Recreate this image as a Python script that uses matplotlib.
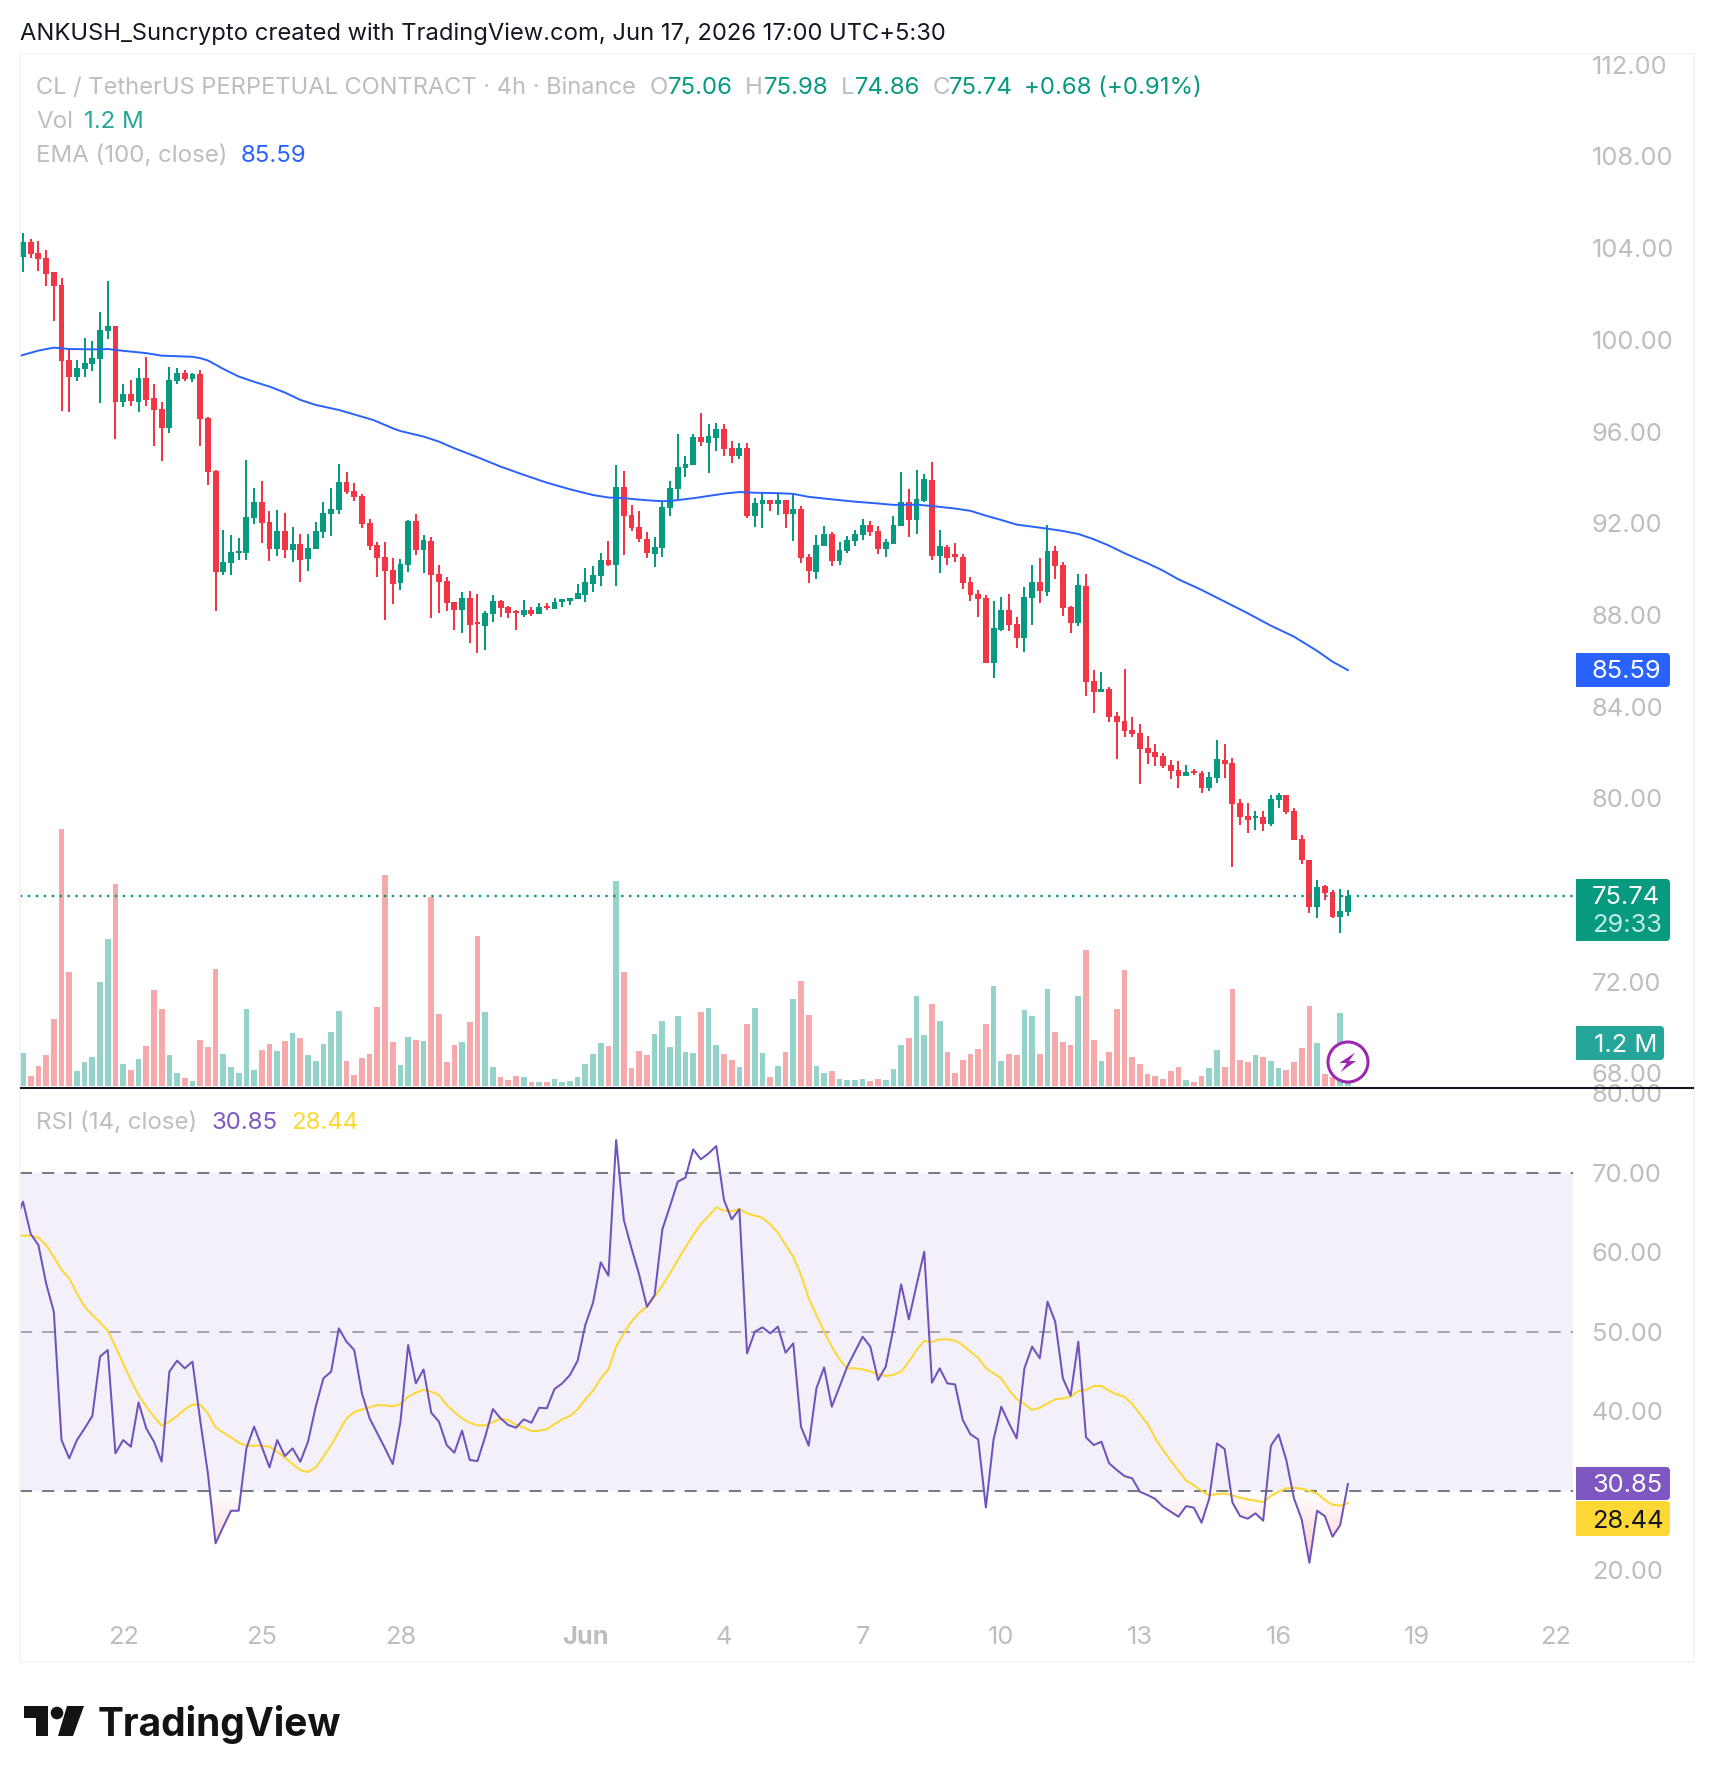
import numpy as np
import matplotlib
matplotlib.use("Agg")
import matplotlib.pyplot as plt
from matplotlib.patches import Circle, FancyBboxPatch, Polygon, Rectangle
from matplotlib.path import Path

plt.rcParams["font.family"] = ["Inter", "DejaVu Sans"]

W, H = 1714, 1782

GREEN = "#089981"
RED = "#F23645"
GREY = "#BDBDC2"
AXIS_SIZE = 18.3
LEGEND_SIZE = 17.3

# 4h candles, oldest first
opens = [
    103.63, 104.27, 103.79, 103.58, 102.94, 102.40, 99.13, 98.38, 98.73, 98.95,
    99.17, 100.39, 100.61, 97.29, 97.64, 97.29, 98.34, 97.47, 96.99, 96.16,
    98.21, 98.56, 98.30, 98.52, 96.59, 94.28, 89.88, 90.27, 90.71, 90.71,
    92.23, 92.93, 92.06, 90.88, 91.66, 90.84, 91.10, 90.44, 90.88, 91.62,
    92.41, 92.58, 93.80, 93.41, 93.19, 92.01, 91.05, 90.53, 89.96, 89.39,
    90.18, 92.10, 90.83, 91.23, 89.79, 89.48, 88.56, 88.21, 88.74, 87.69,
    87.52, 88.04, 88.61, 88.35, 88.17, 87.99, 88.21, 88.04, 88.39, 88.26,
    88.56, 88.61, 88.70, 88.87, 89.35, 89.70, 90.40, 90.18, 93.58, 92.36,
    91.84, 91.31, 90.66, 90.92, 92.67, 93.50, 94.41, 94.54, 95.76, 95.50,
    95.72, 96.11, 95.28, 94.93, 95.28, 92.32, 92.84, 93.02, 92.84, 93.02,
    92.40, 92.62, 90.53, 89.87, 91.01, 91.53, 90.35, 90.79, 91.23, 91.49,
    91.93, 91.66, 90.88, 91.10, 91.88, 92.93, 92.14, 92.97, 93.89, 90.57,
    90.96, 90.64, 90.53, 89.44, 88.91, 88.74, 85.90, 87.34, 88.22, 87.60,
    86.99, 88.74, 89.44, 89.00, 90.79, 90.18, 88.35, 87.65, 89.26, 85.12,
    84.64, 84.77, 83.59, 83.37, 82.98, 82.85, 82.20, 82.02, 81.85, 81.45,
    81.24, 80.97, 81.19, 81.10, 80.45, 80.89, 81.67, 81.54, 79.80, 79.23,
    79.14, 79.19, 78.88, 79.93, 80.14, 79.45, 78.22, 77.31, 75.26, 76.17,
    75.91, 74.82, 75.06,
]
highs = [
    104.68, 104.40, 104.32, 103.92, 102.97, 102.70, 99.56, 99.13, 100.09, 99.95,
    101.22, 102.57, 100.61, 98.08, 98.25, 98.78, 99.26, 98.08, 97.29, 98.82,
    98.78, 98.69, 98.56, 98.69, 96.64, 94.33, 91.71, 91.49, 91.36, 94.76,
    93.54, 93.85, 92.54, 92.58, 92.45, 91.84, 91.53, 91.53, 92.06, 92.93,
    93.54, 94.59, 94.24, 93.76, 93.28, 92.19, 91.18, 91.18, 90.48, 90.44,
    92.14, 92.40, 91.49, 91.40, 90.18, 89.65, 88.56, 89.00, 89.04, 88.91,
    88.17, 88.87, 88.65, 88.39, 88.21, 88.65, 88.35, 88.52, 88.52, 88.74,
    88.70, 88.74, 89.35, 90.05, 90.13, 90.70, 91.23, 94.54, 94.28, 92.80,
    92.53, 91.62, 91.40, 92.93, 93.84, 95.89, 94.93, 95.89, 96.81, 96.33,
    96.37, 96.33, 95.59, 95.50, 95.50, 93.10, 93.32, 93.02, 93.32, 93.02,
    93.28, 92.75, 90.66, 91.49, 91.88, 91.62, 91.18, 91.44, 91.71, 92.19,
    92.10, 91.88, 91.31, 92.32, 94.24, 93.50, 94.32, 94.15, 94.67, 91.71,
    91.05, 91.14, 90.64, 89.66, 89.09, 88.87, 88.61, 88.78, 88.91, 87.91,
    89.22, 90.18, 90.49, 91.92, 91.01, 90.31, 88.39, 89.79, 89.79, 85.60,
    85.51, 84.86, 83.76, 85.64, 83.55, 83.24, 82.72, 82.37, 81.98, 81.67,
    81.63, 81.45, 81.28, 81.19, 81.15, 82.54, 82.37, 81.76, 79.97, 79.80,
    79.45, 79.45, 80.14, 80.23, 80.14, 79.58, 78.40, 77.31, 76.44, 76.22,
    76.00, 76.04, 75.98,
]
lows = [
    102.98, 103.59, 103.02, 102.37, 100.80, 96.91, 96.87, 98.22, 98.40, 98.66,
    97.26, 100.04, 95.68, 97.09, 97.13, 96.83, 97.13, 95.37, 94.73, 95.95,
    98.08, 98.21, 98.17, 95.37, 93.67, 88.17, 89.75, 89.75, 90.40, 90.40,
    91.97, 91.14, 90.36, 90.57, 90.49, 90.31, 89.44, 89.92, 90.88, 91.36,
    91.45, 92.41, 93.28, 92.97, 91.79, 90.83, 89.65, 87.78, 88.48, 89.09,
    89.87, 90.62, 89.83, 87.87, 88.08, 88.17, 87.34, 87.21, 86.77, 86.34,
    86.47, 87.69, 87.91, 87.87, 87.34, 87.91, 87.95, 88.04, 88.21, 88.26,
    88.35, 88.43, 88.70, 88.56, 89.00, 89.26, 90.13, 89.26, 90.62, 91.66,
    91.18, 90.48, 90.09, 90.53, 92.32, 93.06, 94.02, 94.54, 95.37, 94.19,
    95.15, 94.93, 94.63, 94.80, 92.23, 91.84, 91.79, 92.54, 92.36, 91.79,
    91.23, 90.27, 89.39, 89.57, 91.01, 90.14, 90.18, 90.70, 91.01, 91.27,
    91.44, 90.66, 90.53, 91.10, 91.88, 91.40, 91.53, 92.93, 90.40, 89.83,
    90.18, 90.31, 89.13, 88.61, 87.91, 85.90, 85.25, 87.30, 87.30, 86.56,
    86.38, 87.56, 88.52, 88.83, 89.57, 87.95, 87.21, 87.52, 84.46, 83.72,
    84.64, 83.33, 81.72, 82.68, 82.68, 80.62, 81.50, 81.41, 81.32, 80.84,
    80.45, 80.97, 81.02, 80.23, 80.32, 80.67, 80.89, 77.00, 78.84, 78.49,
    78.62, 78.57, 78.79, 79.58, 79.31, 78.18, 77.14, 74.99, 74.78, 75.56,
    74.78, 74.12, 74.86,
]
closes = [
    104.27, 103.75, 103.53, 102.89, 102.37, 99.08, 98.38, 98.78, 98.99, 99.21,
    100.43, 100.61, 97.29, 97.64, 97.34, 98.34, 97.38, 96.94, 96.16, 98.25,
    98.56, 98.30, 98.52, 96.55, 94.24, 89.88, 90.31, 90.75, 90.79, 92.28,
    92.93, 92.01, 90.88, 91.66, 90.84, 91.10, 90.40, 90.92, 91.66, 92.45,
    92.62, 93.80, 93.36, 93.15, 91.97, 91.01, 90.48, 89.92, 89.35, 90.22,
    92.10, 90.83, 91.27, 89.74, 89.44, 88.52, 88.21, 88.74, 87.56, 87.60,
    88.08, 88.61, 88.30, 88.08, 88.08, 88.21, 88.04, 88.35, 88.30, 88.56,
    88.70, 88.74, 88.96, 89.44, 89.74, 90.40, 90.18, 93.58, 92.32, 91.79,
    91.31, 90.70, 90.96, 92.71, 93.54, 94.45, 94.59, 95.76, 95.55, 95.81,
    96.11, 95.24, 94.93, 95.28, 92.32, 92.88, 93.02, 92.84, 93.02, 92.40,
    92.62, 90.48, 89.92, 91.05, 91.53, 90.35, 90.83, 91.27, 91.53, 91.93,
    91.62, 90.88, 91.18, 91.93, 92.93, 92.14, 93.06, 93.93, 90.57, 91.01,
    90.48, 90.53, 89.39, 88.87, 88.70, 85.90, 87.43, 88.22, 87.56, 86.99,
    88.78, 89.44, 89.05, 90.79, 90.14, 88.30, 87.65, 89.31, 85.08, 84.64,
    84.77, 83.55, 83.33, 82.94, 82.81, 82.15, 81.98, 81.80, 81.41, 81.19,
    80.97, 81.15, 81.10, 80.45, 80.93, 81.72, 81.50, 79.75, 79.19, 79.05,
    79.23, 78.88, 79.97, 80.14, 79.40, 78.18, 77.31, 75.26, 76.13, 75.87,
    74.82, 75.09, 75.74,
]

# traded volume in millions
volumes = [
    0.91, 0.27, 0.55, 0.86, 1.86, 7.16, 3.17, 0.41, 0.66, 0.80,
    2.89, 4.09, 5.63, 0.60, 0.44, 0.74, 1.11, 2.67, 2.14, 0.86,
    0.35, 0.21, 0.13, 1.27, 1.08, 3.26, 0.88, 0.52, 0.35, 2.14,
    0.44, 1.00, 1.16, 0.97, 1.25, 1.47, 1.33, 0.86, 0.69, 1.16,
    1.50, 2.08, 0.69, 0.30, 0.77, 0.88, 2.20, 5.88, 1.22, 0.58,
    1.36, 1.27, 1.25, 5.27, 2.00, 0.66, 1.13, 1.22, 1.78, 4.18,
    2.06, 0.52, 0.24, 0.16, 0.27, 0.24, 0.10, 0.10, 0.10, 0.19,
    0.10, 0.13, 0.24, 0.60, 0.88, 1.19, 1.11, 5.71, 3.17, 0.49,
    0.97, 0.86, 1.44, 1.80, 1.08, 1.94, 0.94, 0.91, 2.06, 2.17,
    1.13, 0.88, 0.72, 0.52, 1.72, 2.17, 0.91, 0.24, 0.55, 0.94,
    2.42, 2.92, 1.97, 0.55, 0.35, 0.41, 0.19, 0.16, 0.16, 0.19,
    0.13, 0.19, 0.16, 0.47, 1.13, 1.33, 2.50, 1.41, 2.28, 1.80,
    0.94, 0.35, 0.72, 0.88, 1.02, 1.72, 2.78, 0.69, 0.88, 0.86,
    2.11, 1.94, 0.88, 2.70, 1.50, 1.22, 1.13, 2.50, 3.79, 1.27,
    0.69, 0.94, 2.14, 3.23, 0.80, 0.60, 0.33, 0.27, 0.19, 0.41,
    0.52, 0.16, 0.10, 0.27, 0.49, 1.00, 0.52, 2.70, 0.72, 0.66,
    0.86, 0.80, 0.69, 0.49, 0.44, 0.66, 1.05, 2.22, 1.19, 0.33,
    0.24, 2.03, 1.20,
]

# EMA(100) vertices: candle index and value
ema_index = [
    -1, 0, 2, 4, 6, 10, 11, 13, 16, 18, 22, 23, 24, 26, 28, 30, 32, 34, 36, 38,
    41, 45.5, 48, 49, 52, 54, 56, 59, 62, 65, 68, 71, 74, 76, 78, 81, 83, 84,
    87, 89, 91, 93, 95, 98, 100, 102, 105, 108, 111, 113, 116, 118, 121, 123,
    125, 127, 129, 131, 133, 135, 137, 139, 141, 143, 146, 148, 150, 153, 156,
    159, 162, 165, 168, 170, 172,
]
ema_values = [
    99.25, 99.34, 99.53, 99.66, 99.60, 99.58, 99.60, 99.52, 99.42, 99.31, 99.26,
    99.20, 99.10, 98.73, 98.40, 98.17, 97.96, 97.70, 97.38, 97.16, 96.94, 96.50,
    96.14, 96.02, 95.78, 95.56, 95.27, 94.88, 94.47, 94.11, 93.77, 93.48, 93.23,
    93.12, 93.09, 93.00, 92.96, 92.97, 93.09, 93.19, 93.29, 93.36, 93.33, 93.31,
    93.28, 93.15, 93.04, 92.94, 92.86, 92.80, 92.81, 92.75, 92.64, 92.54, 92.33,
    92.14, 91.94, 91.85, 91.76, 91.66, 91.53, 91.30, 91.02, 90.69, 90.25, 89.93,
    89.55, 89.09, 88.58, 88.07, 87.53, 87.05, 86.43, 85.96, 85.59,
]

# RSI(14) and its moving average, starting one bar left of the first candle
rsi_values = [
    63.84, 66.35, 62.29, 60.90, 56.08, 52.52, 36.37, 34.07, 36.37, 37.84, 39.39,
    46.86, 47.69, 34.70, 36.37, 35.53, 41.11, 37.84, 36.16, 33.65, 44.97,
    46.35, 45.39, 46.23, 38.89, 32.18, 23.38, 25.47, 27.48, 27.48, 35.32,
    38.05, 35.53, 32.93, 36.37, 34.36, 35.32, 33.65, 36.16, 40.57, 44.13,
    44.97, 50.42, 48.74, 47.69, 42.24, 39.10, 37.21, 35.32, 33.35, 38.68,
    48.32, 43.50, 45.26, 39.81, 38.68, 35.74, 34.78, 37.55, 33.86, 33.73,
    36.79, 40.27, 39.10, 38.26, 37.92, 38.97, 38.55, 40.44, 40.36, 42.79,
    43.50, 44.55, 46.35, 50.84, 53.65, 58.72, 57.04, 74.11, 64.05, 60.48,
    57.13, 53.14, 54.61, 62.87, 65.81, 68.87, 69.37, 72.94, 71.68, 72.43,
    73.35, 66.56, 64.13, 65.39, 47.27, 50.00, 50.55, 49.79, 50.63, 47.36,
    48.53, 38.05, 35.66, 42.87, 45.51, 40.57, 43.08, 45.60, 47.48, 49.37,
    48.11, 43.92, 45.60, 50.42, 55.95, 51.55, 55.87, 60.06, 43.58, 45.39,
    43.50, 43.37, 38.89, 37.09, 36.46, 27.90, 36.46, 40.57, 38.47, 36.58,
    45.39, 48.11, 46.65, 53.77, 51.26, 44.13, 41.95, 48.74, 36.71, 35.74,
    36.16, 33.44, 32.60, 31.84, 31.55, 29.87, 29.45, 28.95, 27.99, 27.36,
    26.73, 28.07, 27.86, 25.97, 29.03, 35.95, 35.24, 28.53, 26.81, 26.48,
    27.15, 26.23, 35.66, 37.09, 33.86, 29.03, 26.39, 20.94, 27.48, 26.81,
    24.21, 25.68, 30.85,
]
rsi_ma_values = [
    62.08, 62.08, 62.08, 61.82, 60.90, 59.43, 57.76, 56.71, 54.82, 53.14, 52.10,
    51.17, 50.13, 48.11, 46.02, 43.92, 42.03, 40.57, 39.31, 38.18, 38.68,
    39.39, 40.23, 40.82, 40.82, 39.73, 37.97, 37.30, 36.71, 36.04, 35.66,
    35.66, 35.66, 35.53, 34.91, 34.15, 33.35, 32.60, 32.35, 32.93, 34.28,
    35.74, 37.42, 39.10, 39.90, 40.23, 40.48, 40.78, 40.73, 40.61, 40.90,
    41.82, 42.33, 42.70, 42.45, 42.03, 40.78, 39.85, 39.10, 38.55, 38.22,
    38.22, 38.64, 39.06, 38.89, 38.26, 37.97, 37.50, 37.55, 37.72, 38.39,
    38.97, 39.39, 40.23, 41.49, 42.58, 44.13, 45.26, 48.11, 49.79, 51.26,
    52.39, 53.14, 54.40, 55.79, 57.34, 59.01, 60.61, 62.16, 63.54, 64.55,
    65.64, 65.22, 65.14, 65.43, 64.88, 64.59, 64.34, 63.50, 62.45, 60.90,
    59.43, 57.13, 54.19, 52.10, 50.00, 48.11, 46.52, 45.39, 45.39, 45.26,
    45.01, 44.63, 44.42, 44.59, 44.97, 46.23, 47.69, 48.83, 48.70, 49.04,
    49.04, 48.87, 48.32, 47.48, 46.73, 45.39, 44.76, 44.13, 42.66, 41.53,
    40.90, 40.15, 40.44, 40.98, 41.49, 41.61, 41.82, 42.54, 42.66, 43.17,
    43.17, 42.58, 42.12, 41.82, 40.90, 39.64, 38.39, 36.58, 35.11, 33.77,
    32.52, 31.26, 30.67, 30.00, 29.41, 29.58, 29.66, 29.41, 29.12, 28.91,
    28.74, 28.57, 29.33, 29.87, 30.29, 30.38, 30.25, 29.96, 29.66, 28.83,
    28.24, 28.11, 28.44,
]

# 76 is left out: the last-price tag sits where it would be
price_ticks = [68, 72, 80, 84, 88, 92, 96, 100, 104, 108, 112]
rsi_ticks = [20, 40, 50, 60, 70, 80]
date_ticks = [13, 31, 49, 73, 91, 109, 127, 145, 163, 181, 199]
date_labels = ["22", "25", "28", "Jun", "4", "7", "10", "13", "16", "19", "22"]


def pane(left, top, right, bottom, **kwargs):
    rect = [left / W, 1 - bottom / H, (right - left) / W, (bottom - top) / H]
    return fig.add_axes(rect, **kwargs)


def label(x, y, text, color=GREY, size=LEGEND_SIZE, **kwargs):
    overlay.text(x, y + 2, text, color=color, fontsize=size, va="center", ha=kwargs.pop("ha", "left"), **kwargs)


def price_tag(top, bottom, right, color):
    # square on the pane side, rounded on the outer side
    overlay.add_patch(FancyBboxPatch((1580, top + 2), right - 1580 - 2, bottom - top - 4,
                                     boxstyle="round,pad=2,rounding_size=4", fc=color, ec="none"))
    overlay.add_patch(Rectangle((1576, top), 10, bottom - top, fc=color, ec="none"))


def gradient_fill(below, low, high, rgb, alpha_low, alpha_high):
    # vertical colour fade, clipped to the area between RSI and its band edge
    poly = rsi_ax.fill_between(rsi_x, rsi, high if below else low,
                               where=(rsi < high) if below else (rsi > low),
                               interpolate=True, color="none", linewidth=0)
    shade = np.zeros((64, 1, 4))
    shade[..., :3] = rgb
    shade[..., 3] = np.linspace(alpha_high, alpha_low, 64)[:, None]
    im = rsi_ax.imshow(shade, extent=(x_min, x_max, low, high), aspect="auto", origin="upper", zorder=1)
    im.set_clip_path(Path.make_compound_path(*poly.get_paths()), transform=rsi_ax.transData)


fig = plt.figure(figsize=(W / 100, H / 100), dpi=100, facecolor="white")

x_min = (20 - 23) / 7.703
x_max = (1576 - 23) / 7.703
band_end = (1573 - 20) / (1576 - 20)
idx = np.arange(len(closes))
up = np.array(closes) >= np.array(opens)
candle_colors = np.where(up, GREEN, RED)

# volume sits behind the candles on its own scale
vol_ax = pane(20, 54, 1576, 1088, zorder=1)
vol_ax.bar(idx, volumes, width=0.74, color=np.where(up, "#95D2CA", "#F6A9AA"))
vol_ax.set_xlim(x_min, x_max)
vol_ax.set_ylim(-0.064, 28.82)
vol_ax.axis("off")

ax = pane(20, 54, 1576, 1088, zorder=2)
ax.patch.set_visible(False)
ax.vlines(idx, lows, highs, colors=candle_colors, linewidth=1.45, zorder=3)
ax.bar(idx, np.abs(np.array(closes) - np.array(opens)), bottom=np.minimum(opens, closes),
       width=0.76, color=candle_colors, zorder=4)
ax.plot(ema_index, ema_values, color="#2962FF", linewidth=1.4, zorder=5)
ax.axhline(closes[-1], color=GREEN, linewidth=1.7, linestyle=(0, (1, 2.35)), zorder=6)
ax.set_xlim(x_min, x_max)
ax.set_ylim(67.36, 112.47)
ax.set_xticks([])
ax.set_yticks(price_ticks, [f"{t:.2f}" for t in price_ticks])
ax.yaxis.tick_right()
ax.tick_params(axis="y", length=0, pad=11.5, labelsize=AXIS_SIZE, labelcolor=GREY)
for spine in ax.spines.values():
    spine.set_visible(False)

rsi_ax = pane(20, 1088, 1576, 1611, zorder=1)
rsi_x = np.arange(-1, len(closes))
rsi = np.array(rsi_values)
rsi_ax.axhspan(30, 70, xmax=band_end, facecolor="#7E57C2", alpha=0.085, linewidth=0)

gradient_fill(True, 20, 30, (0.95, 0.21, 0.27), 0.28, 0.0)
gradient_fill(False, 70, 80, (0.03, 0.6, 0.5), 0.0, 0.12)

for level, color in [(70, "#787B86"), (50, "#A8A6B2"), (30, "#787B86")]:
    rsi_ax.axhline(level, xmax=band_end, color=color, linewidth=1.45, linestyle=(0, (6, 5)), zorder=2)
rsi_ax.plot(rsi_x, rsi_ma_values, color="#FDD835", linewidth=1.45, zorder=3)
rsi_ax.plot(rsi_x, rsi, color="#6F53BC", linewidth=1.45, zorder=4)
rsi_ax.set_xlim(x_min, x_max)
rsi_ax.set_ylim(14.87, 80.65)
rsi_ax.set_xticks(date_ticks, date_labels)
rsi_ax.get_xticklabels()[3].set_fontweight("bold")
rsi_ax.set_yticks(rsi_ticks, [f"{t:.2f}" for t in rsi_ticks])
rsi_ax.yaxis.tick_right()
rsi_ax.tick_params(axis="y", length=0, pad=11.5, labelsize=AXIS_SIZE, labelcolor=GREY)
rsi_ax.tick_params(axis="x", length=0, pad=11, labelsize=AXIS_SIZE, labelcolor=GREY)
for spine in rsi_ax.spines.values():
    spine.set_visible(False)

# pixel-positioned furniture: frame, legends, value tags and logo
overlay = fig.add_axes([0, 0, 1, 1], zorder=10)
overlay.set_xlim(0, W)
overlay.set_ylim(H, 0)
overlay.axis("off")

overlay.add_patch(Rectangle((20, 54), 1674, 1608, fc="none", ec="#F3F3F4", lw=1.2))
overlay.plot([20, 1694], [1088, 1088], color="#131722", lw=1.5, solid_capstyle="butt")

label(20, 32, "ANKUSH_Suncrypto created with TradingView.com, Jun 17, 2026 17:00 UTC+5:30", color="#131722", size=17.1)

label(36, 86, "CL / TetherUS PERPETUAL CONTRACT · 4h · Binance", size=17.0)
for x, text, color in [(650, "O", GREY), (668, "75.06", GREEN), (745, "H", GREY), (764, "75.98", GREEN),
                       (841, "L", GREY), (855, "74.86", GREEN), (933, "C", GREY), (949, "75.74", GREEN),
                       (1024, "+0.68 (+0.91%)", GREEN)]:
    label(x, 86, text, color=color)
label(36, 120, "Vol")
label(84, 120, "1.2 M", color="#26A69A")
label(36, 154, "EMA (100, close)")
label(241, 154, "85.59", color="#2962FF")
label(36, 1121, "RSI (14, close)")
label(212, 1121, "30.85", color="#7E57C2")
label(291, 1121, "28.44", color="#FDD835")

price_tag(653, 687, 1670, "#2962FF")
label(1592, 670, "85.59", color="white", size=AXIS_SIZE)
price_tag(879, 941, 1670, GREEN)
label(1592, 896, "75.74", color="white", size=AXIS_SIZE)
label(1592, 924, "29:33", color="#C5EDE6", size=AXIS_SIZE)
price_tag(1026, 1060, 1664, "#26A69A")
label(1594, 1043, "1.2 M", color="white", size=AXIS_SIZE)
price_tag(1467, 1500, 1670, "#7E57C2")
label(1592, 1484, "30.85", color="white", size=AXIS_SIZE)
price_tag(1501, 1536, 1670, "#FDD835")
label(1592, 1519, "28.44", color="#131722", size=AXIS_SIZE)

# lightning badge over the last volume bar
overlay.add_patch(Circle((1348, 1062), 20, fc="white", ec="#9C27B0", lw=2.2))
overlay.add_patch(Polygon([(1355, 1052.7), (1339.3, 1063), (1346.7, 1063), (1340.7, 1072), (1356, 1061),
                           (1349, 1061)], closed=True, fc="#9C27B0", ec="none"))

# wordmark
overlay.add_patch(Polygon([(24, 1706), (48, 1706), (48, 1736), (36, 1736), (36, 1718), (24, 1718)],
                          closed=True, fc="#131313", ec="none"))
overlay.add_patch(Circle((57, 1713), 6.3, fc="#131313", ec="none"))
overlay.add_patch(Polygon([(67, 1706), (84, 1706), (73, 1736), (58, 1736)], closed=True, fc="#131313", ec="none"))
overlay.text(98, 1736, "TradingView", color="#131313", fontsize=28, fontweight="bold", va="baseline")

fig.savefig("out.png", dpi=100)
